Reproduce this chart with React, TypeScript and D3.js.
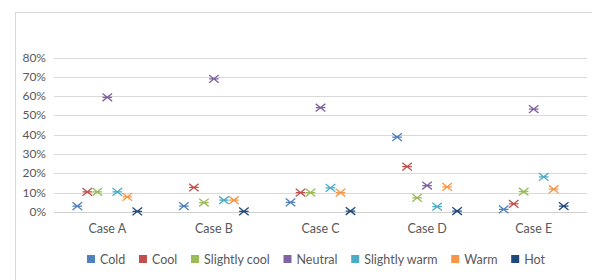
import React, { useEffect, useRef } from 'react';
import * as d3 from 'd3';

const cases = ['Case A', 'Case B', 'Case C', 'Case D', 'Case E'];
const seriesNames = ['Cold', 'Cool', 'Slightly cool', 'Neutral', 'Slightly warm', 'Warm', 'Hot'];
const colors = ['#4F81BD', '#C0504D', '#9BBB59', '#8064A2', '#4BACC6', '#F79646', '#1F497D'];
// values per series, one per case (fractions)
const cold = [0.03, 0.03, 0.05, 0.388, 0.014];
const cool = [0.104, 0.127, 0.10, 0.235, 0.042];
const slightlyCool = [0.104, 0.049, 0.10, 0.073, 0.105];
const neutral = [0.594, 0.689, 0.54, 0.137, 0.533];
const slightlyWarm = [0.104, 0.061, 0.125, 0.028, 0.182];
const warm = [0.078, 0.061, 0.10, 0.13, 0.118];
const hot = [0.003, 0.003, 0.005, 0.005, 0.03];
const yTicks = [0, 0.1, 0.2, 0.3, 0.4, 0.5, 0.6, 0.7, 0.8];

const allSeries = [cold, cool, slightlyCool, neutral, slightlyWarm, warm, hot];

const App = () => {
  const svgRef = useRef<SVGSVGElement>(null);

  useEffect(() => {
    const svg = d3.select(svgRef.current);
    svg.selectAll('*').remove();
    const font = 'Lato, sans-serif';

    // chart frame
    svg.append('rect')
      .attr('x', 15.5).attr('y', 12.5)
      .attr('width', 590).attr('height', 300)
      .attr('fill', '#fff').attr('stroke', '#d9d9d9');

    const x = d3.scaleBand().domain(cases).range([54, 587]);
    const inner = d3.scaleBand().domain(seriesNames).range([-35, 35]);
    const y = d3.scaleLinear().domain([0, 0.8]).range([212, 57.5]);

    svg.append('g').selectAll('line').data(yTicks).enter().append('line')
      .attr('x1', 54).attr('x2', 587)
      .attr('y1', (d) => Math.round(y(d)) + 0.5).attr('y2', (d) => Math.round(y(d)) + 0.5)
      .attr('stroke', (d) => (d === 0 ? '#d0d0d0' : '#d9d9d9'));

    svg.append('g').selectAll('text').data(yTicks).enter().append('text')
      .attr('x', 46).attr('y', (d) => y(d) + 4)
      .attr('text-anchor', 'end')
      .style('font-family', font).style('font-size', '12px').attr('fill', '#595959')
      .text((d) => d3.format('.0%')(d));

    svg.append('g').selectAll('text').data(cases).enter().append('text')
      .attr('x', (d) => x(d)! + x.bandwidth() / 2).attr('y', 233)
      .attr('text-anchor', 'middle')
      .style('font-family', font).style('font-size', '12.5px').attr('fill', '#595959')
      .text((d) => d);

    const r = 4.8;
    allSeries.forEach((vals, si) => {
      const g = svg.append('g').attr('stroke', colors[si]).attr('stroke-width', 1.3);
      vals.forEach((v, ci) => {
        const cx = x(cases[ci])! + x.bandwidth() / 2 + inner(seriesNames[si])! + inner.bandwidth() / 2;
        const cy = y(v);
        g.append('path')
          .attr('d', `M${cx - r},${cy - r * 0.8}L${cx + r},${cy + r * 0.8}M${cx - r},${cy + r * 0.8}L${cx + r},${cy - r * 0.8}M${cx - r},${cy}L${cx + r},${cy}`);
      });
    });

    // legend
    const legend = svg.append('g');
    let lx = 87;
    seriesNames.forEach((name, i) => {
      legend.append('rect').attr('x', lx).attr('y', 255).attr('width', 8).attr('height', 8).attr('fill', colors[i]);
      const t = legend.append('text').attr('x', lx + 13).attr('y', 263.5)
        .style('font-family', font).style('font-size', '12.5px').attr('fill', '#595959')
        .text(name);
      const w = (t.node() as SVGTextElement).getComputedTextLength();
      lx += 13 + w + 13.7;
    });
  }, []);

  return (
    <svg ref={svgRef} width={592} height={280} style={{ position: 'absolute', left: 0, top: 0 }} />
  );
};

export default App;
